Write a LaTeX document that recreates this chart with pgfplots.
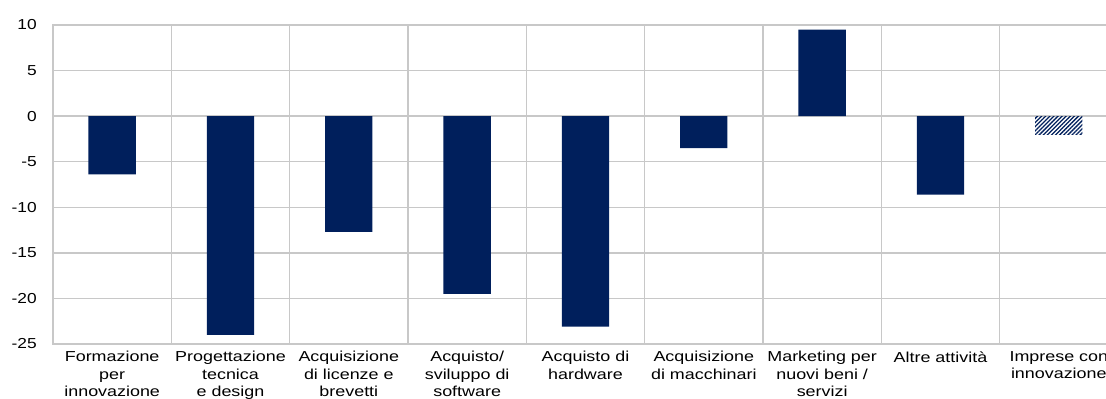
\documentclass[border=0pt]{standalone}
\usepackage{fontspec}
\setmainfont{Liberation Sans}
\usepackage{pgfplots}
\pgfplotsset{compat=1.18}
\usetikzlibrary{patterns.meta}
\definecolor{navy}{RGB}{0,31,92}
\definecolor{gridgray}{RGB}{200,200,200}
\begin{document}
\begin{tikzpicture}
\begin{axis}[
  at={(53bp,55bp)}, anchor=south west,
  scale only axis, width=1065bp, height=319bp,
  xmin=-0.5, xmax=8.5, ymin=-25, ymax=10,
  ytick={-25,-20,...,10},
  yticklabels={-25,-20,-15,-10,-5,0,5,10},
  xtick={0,1,2,3,4,5,6,7,8},
  xticklabels={Formazione\\per\\innovazione, Progettazione\\tecnica\\e design, Acquisizione\\di licenze e\\brevetti, Acquisto/\\sviluppo di\\software, Acquisto di\\hardware, Acquisizione\\di macchinari, Marketing per\\nuovi beni /\\servizi, Altre attività, Imprese con\\innovazione},
  minor xtick={-0.5,0.5,1.5,2.5,3.5,4.5,5.5,6.5,7.5,8.5},
  xminorgrids, ymajorgrids,
  grid style={gridgray, line width=1.4bp},
  minor grid style={gridgray, line width=1.4bp},
  axis line style={gridgray, line width=1.4bp},
  major tick length=0, minor tick length=0,
  tick style={draw=none},
  x tick label style={font=\fontsize{14.5}{17.2}\selectfont, align=center, xscale=1.24, yshift=-4bp},
  y tick label style={font=\fontsize{14.5}{17}\selectfont, xscale=1.2, xshift=-10bp},
  ybar, bar width=0.4, bar shift=0pt,
]
\addplot[draw=none, fill=navy] coordinates {(0,-6.4) (1,-24.0) (2,-12.7) (3,-19.5) (4,-23.1) (5,-3.5) (6,9.5) (7,-8.6)};
\addplot[draw=none, pattern={Lines[angle=45, distance=2.9bp, line width=1.3bp]}, pattern color=navy] coordinates {(8,-2.0)};
\end{axis}
\pgfresetboundingbox
\path (0,0) rectangle (1106bp,399bp);
\end{tikzpicture}
\end{document}
